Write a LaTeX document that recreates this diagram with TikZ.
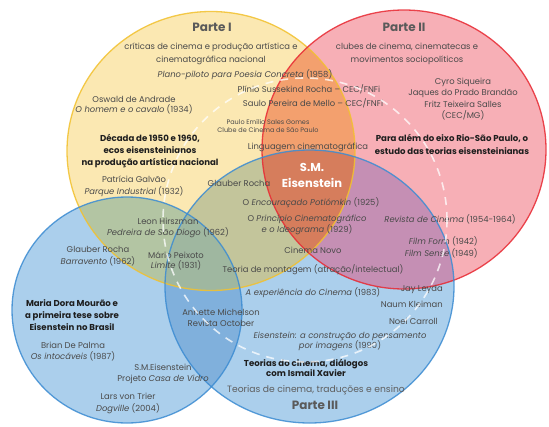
\documentclass[tikz,border=0pt]{standalone}
\usepackage{fontspec}
\setmainfont{Poppins}
\definecolor{cY}{HTML}{FBE8B2}
\definecolor{cR}{HTML}{F7AFB6}
\definecolor{cB}{HTML}{ABCFEC}
\definecolor{cYR}{HTML}{F3A06E}
\definecolor{cYRB}{HTML}{D67D5C}
\definecolor{cYB}{HTML}{C3C59B}
\definecolor{cYBL}{HTML}{B3C5A3}
\definecolor{cYBB}{HTML}{9FB7A0}
\definecolor{cRB}{HTML}{C58FB4}
\definecolor{cBB}{HTML}{80B0DC}
\definecolor{lY}{HTML}{F2C12E}
\definecolor{lR}{HTML}{E82A33}
\definecolor{lB}{HTML}{3C8CD2}
\definecolor{txtgray}{HTML}{4A4A4A}
\definecolor{txtlight}{HTML}{5E5E5E}
\definecolor{txtdark}{HTML}{1E1E1E}
\definecolor{partegray}{HTML}{5A5A5A}
% the four sets
\def\ellY{(211,151) ellipse [x radius=144pt, y radius=139.5pt]}
\def\ellR{(404,149.5) ellipse [x radius=142pt, y radius=139.5pt]}
\def\ellBL{(127,310) ellipse [x radius=115pt, y radius=113pt]}
\def\ellBR{(309.5,286.5) ellipse [x radius=144.5pt, y radius=136.5pt]}
\newcommand{\rsz}[1]{\fontsize{8.4}{#1}\selectfont}
\newcommand{\bsz}[1]{\fontsize{8.6}{#1}\bfseries\selectfont}
\tikzset{
  txt/.style={inner sep=0pt, align=center, text=txtgray, font=\rsz{10.5}},
  bld/.style={inner sep=0pt, align=center, text=txtdark, font=\bsz{12.3}},
  sml/.style={inner sep=0pt, align=center, text=txtgray, font=\fontsize{6.5}{8}\selectfont},
  parte/.style={inner sep=0pt, text=partegray, font=\fontsize{12}{14}\bfseries\selectfont},
  centre/.style={inner sep=0pt, align=center, text=white, font=\fontsize{11.5}{16}\bfseries\selectfont},
  rim/.style={line width=1.3pt, draw opacity=0.85},
}
\begin{document}
\begin{tikzpicture}[x=1pt, y=-1pt]
\useasboundingbox (0,0) rectangle (549,426);
\fill[white] (0,0) rectangle (549,426);
% plain areas
\fill[cY] \ellY;
\fill[cR] \ellR;
\fill[cB] \ellBL;
\fill[cB] \ellBR;
% pairwise overlaps
\begin{scope}\clip \ellR; \fill[cRB] \ellBR; \end{scope}
\begin{scope}\clip \ellBL; \fill[cBB] \ellBR; \end{scope}
\begin{scope}\clip \ellY; \fill[cYR] \ellR; \fill[cYB] \ellBR; \fill[cYBL] \ellBL; \end{scope}
% triple overlaps
\begin{scope}\clip \ellY; \clip \ellBR; \fill[cYRB] \ellR; \fill[cYBB] \ellBL; \end{scope}
% outlines
\draw[rim, lY] \ellY;
\draw[rim, lR] \ellR;
\draw[rim, lB] \ellBL;
\draw[rim, lB] \ellBR;

% Parte I
\node[parte] (p1) at (212,27) {Parte I};
\node[txt, font=\rsz{13}] (p1sub) at (211,53.5) {críticas de cinema e produção artística e\\cinematográfica nacional};
\node[txt] (plano) at (245,75) {\textit{Plano-piloto para Poesia Concreta} (1958)};
\node[txt] (plinio) at (309,89) {Plínio Sussekind Rocha – CEC/FNFi};
\node[txt] (saulo) at (313,103) {Saulo Pereira de Mello – CEC/FNFi};
\node[sml] (paulo) at (268,126) {Paulo Emílio Sales Gomes\\Clube de Cinema de São Paulo};
\node[txt] (ling) at (308,147) {Linguagem cinematográfica};
\node[txt, font=\rsz{10}] (oswald) at (134,105) {Oswald de Andrade\\\textit{O homem e o cavalo} (1934)};
\node[bld] (decada) at (150,151) {Década de 1950 e 1960,\\ecos eisensteinianos\\na produção artística nacional};
\node[txt, font=\rsz{12}] (patricia) at (134,186) {Patrícia Galvão\\\textit{Parque Industrial} (1932)};

% Parte II
\node[parte] (p2) at (404,27) {Parte II};
\node[txt, font=\rsz{13}] (p2sub) at (407,53.5) {clubes de cinema, cinematecas e\\movimentos sociopolíticos};
\node[txt, font=\rsz{11.3}] (cyro) at (463,99) {Cyro Siqueira\\Jaques do Prado Brandão\\Fritz Teixeira Salles\\(CEC/MG)};
\node[bld, font=\bsz{13}] (alem) at (452,144.5) {Para além do eixo Rio-São Paulo, o\\estudo das teorias eisensteinianas};

% centre
\node[centre] (sme) at (312,175) {S.M.\\Eisenstein};

% Parte III
\node[txt] (glauber1) at (239,183) {Glauber Rocha};
\node[txt] (potiomkin) at (311,203) {O \textit{Encouraçado Potiómkin} (1925)};
\node[txt] (principio) at (307,225) {O \textit{Princípio Cinematográfico}\\\textit{e o Ideograma} (1929)};
\node[txt] (cnovo) at (313,250) {Cinema Novo};
\node[txt] (montagem) at (313,270) {Teoria de montagem (atração/intelectual)};
\node[txt] (experiencia) at (313,293) {\textit{A experiência do Cinema} (1983)};
\node[txt] (revista) at (450,219) {\textit{Revista de Cinema} (1954-1964)};
\node[txt, align=right, anchor=east, font=\rsz{12}] (film) at (478,247) {\textit{Film Form} (1942)\\\textit{Film Sense} (1949)};
\node[txt, anchor=east] (leyda) at (443,289) {Jay Leyda};
\node[txt, anchor=east] (kleiman) at (443,304) {Naum Kleiman};
\node[txt, anchor=east] (carroll) at (438,321) {Noel Carroll};
\node[txt] (pensamento) at (340,341.5) {\textit{Eisenstein: a construção do pensamento}\\\textit{por imagens} (1990)};
\node[bld, font=\bsz{10.5}] (xavier) at (306,368) {Teorias do cinema, diálogos\\com Ismail Xavier};
\node[txt, text=txtlight, font=\fontsize{9.2}{11}\selectfont] (traducoes) at (316,390) {Teorias de cinema, traduções e ensino};
\node[parte] (p3) at (315,405) {Parte III};

% left set
\node[txt] (leon) at (168,228) {Leon Hirszman\\\textit{Pedreira de São Diogo} (1962)};
\node[txt, font=\rsz{12}] (glauber2) at (98,256) {Glauber Rocha\\\textit{Barravento} (1962)};
\node[txt, font=\rsz{10}] (mario) at (176,261) {Mário Peixoto\\\textit{Limite} (1931)};
\node[bld, font=\bsz{12}] (maria) at (72,315) {Maria Dora Mourão e\\a primeira tese sobre\\Eisenstein no Brasil};
\node[txt, font=\rsz{11}] (palma) at (73,351.5) {Brian De Palma\\\textit{Os intocáveis} (1987)};
\node[txt, font=\rsz{11}] (casa) at (163,373.5) {S.M.Eisenstein\\Projeto \textit{Casa de Vidro}};
\node[txt, font=\rsz{12}] (trier) at (128,403) {Lars von Trier\\\textit{Dogville} (2004)};
\node[txt, font=\rsz{11}] (annette) at (221,317.5) {Annette Michelson\\Revista October};

% dashed white ring over everything
\draw[white, line width=1.6pt, dash pattern=on 8pt off 7pt, opacity=0.75] (305,220) circle [radius=142pt];
\end{tikzpicture}
\end{document}
